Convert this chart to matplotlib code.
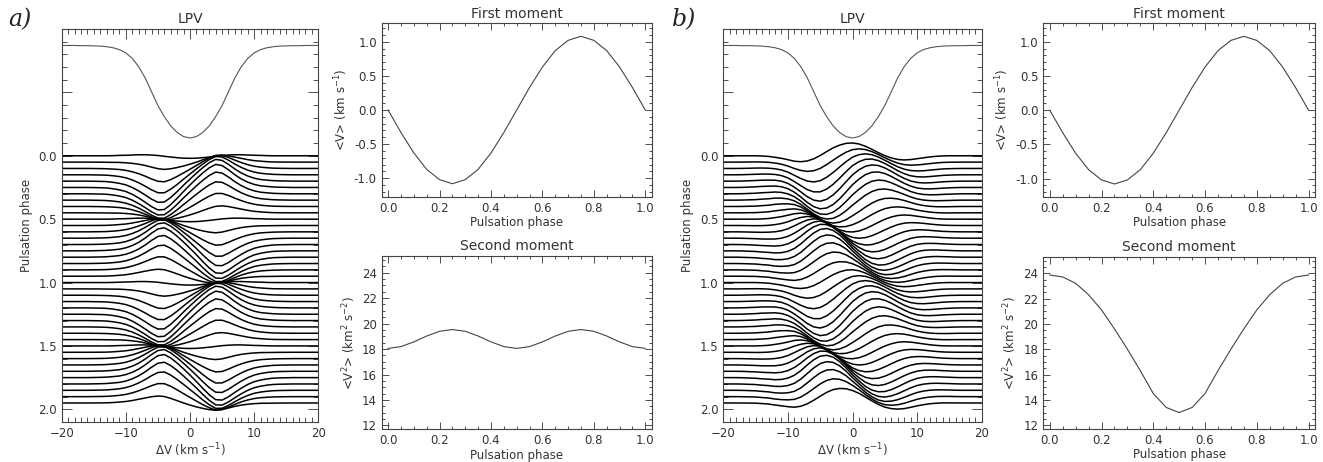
import numpy as np
import matplotlib
matplotlib.use('Agg')
from matplotlib import pyplot as plt
from matplotlib.ticker import MultipleLocator, FixedLocator, FuncFormatter

# velocity grid of the line profiles (km/s)
vel = np.arange(-20, 21)

# mean line profile (normalised flux), v = -20 .. 20
mean_flux = [1.000, 1.000, 1.000, 0.999, 0.999, 0.998, 0.997, 0.994, 0.989, 0.980,
             0.964, 0.937, 0.897, 0.843, 0.775, 0.708, 0.654, 0.609, 0.577, 0.557,
             0.550,
             0.557, 0.577, 0.609, 0.654, 0.708, 0.775, 0.843, 0.897, 0.937, 0.964,
             0.980, 0.989, 0.994, 0.997, 0.998, 0.999, 0.999, 1.000, 1.000, 1.000]

# residual shapes, model a): velocity-shift part and width part
shift_a = [0.0, 0.0, 0.0, 0.0, 0.0, -0.001, -0.002, -0.004, -0.009, -0.016,
           -0.028, -0.048, -0.075, -0.108, -0.145, -0.175, -0.178, -0.145, -0.100, -0.050,
           0.0,
           0.050, 0.100, 0.145, 0.178, 0.175, 0.145, 0.108, 0.075, 0.048, 0.028,
           0.016, 0.009, 0.004, 0.002, 0.001, 0.0, 0.0, 0.0, 0.0, 0.0]
width_a = [0.0, 0.0, 0.0, 0.0, 0.0, 0.0, 0.0, 0.0, -0.001, -0.003,
           -0.004, -0.006, -0.008, -0.008, -0.006, -0.002, 0.004, 0.010, 0.015, 0.019,
           0.020,
           0.019, 0.015, 0.010, 0.004, -0.002, -0.006, -0.008, -0.008, -0.006, -0.004,
           -0.003, -0.001, 0.0, 0.0, 0.0, 0.0, 0.0, 0.0, 0.0, 0.0]

# residual shapes, model b): cosine and sine components of the travelling pattern
cos_b = [0.0, 0.0, 0.0, 0.0, 0.000, 0.000, -0.002, -0.005, -0.012, -0.020,
         -0.031, -0.043, -0.047, -0.041, -0.024, 0.002, 0.033, 0.062, 0.084, 0.098,
         0.101,
         0.093, 0.075, 0.051, 0.025, 0.001, -0.017, -0.029, -0.033, -0.030, -0.023,
         -0.016, -0.009, -0.004, -0.001, 0.0, 0.0, 0.0, 0.0, 0.0, 0.0]
sin_b = [0.0, 0.0, 0.0, 0.001, 0.003, 0.005, 0.009, 0.011, 0.014, 0.010,
         -0.003, -0.028, -0.065, -0.109, -0.146, -0.169, -0.169, -0.148, -0.108, -0.056,
         0.0,
         0.046, 0.085, 0.109, 0.117, 0.110, 0.091, 0.066, 0.040, 0.017, 0.001,
         -0.007, -0.009, -0.008, -0.005, -0.003, -0.001, 0.0, 0.0, 0.0, 0.0]

# moments against pulsation phase
phase = np.round(np.arange(21) * 0.05, 2)
first_mom = [0.0, -0.33, -0.63, -0.87, -1.02, -1.08, -1.02, -0.87, -0.63, -0.33, 0.0,
             0.33, 0.63, 0.87, 1.02, 1.08, 1.02, 0.87, 0.63, 0.33, 0.0]
second_mom_a = [18.05, 18.19, 18.56, 19.02, 19.39, 19.53, 19.39, 19.02, 18.56, 18.19, 18.05,
                18.19, 18.56, 19.02, 19.39, 19.53, 19.39, 19.02, 18.56, 18.19, 18.05]
second_mom_b = [23.85, 23.70, 23.20, 22.30, 21.10, 19.60, 18.00, 16.30, 14.50, 13.40, 13.00,
                13.40, 14.50, 16.30, 18.00, 19.60, 21.10, 22.30, 23.20, 23.70, 23.85]

# LPV phases (two cycles)
lpv_phase = np.round(np.arange(40) * 0.05, 2)

W, H = 1323, 462
fig = plt.figure(figsize=(W / 100, H / 100), dpi=100)
TXT = '#333333'
plt.rcParams['font.family'] = 'DejaVu Sans'


def box(x0, y0, x1, y1):
    # pixel box -> figure fraction
    return [x0 / W, 1 - y1 / H, (x1 - x0) / W, (y1 - y0) / H]


def style(ax, big=False):
    ax.tick_params(which='both', direction='in', top=True, right=True,
                   colors=TXT, labelsize=8.5, width=0.6, labelcolor=TXT)
    ax.tick_params(which='major', length=7 if big else 5)
    ax.tick_params(which='minor', length=3.5 if big else 2.5)
    for s in ax.spines.values():
        s.set_linewidth(0.8)
        s.set_color('#444444')


def lpv(ax, shape1, shape2, amp1, amp2):
    prof = np.array(mean_flux)
    # mean profile drawn above the residuals
    ax.plot(vel, -0.87 + (1 - prof) / 0.45 * 0.73, color='#555555', lw=0.8)
    for i, ph in enumerate(lpv_phase):
        k = i % 20
        res = amp1[k] * np.array(shape1) + amp2[k] * np.array(shape2)
        ax.plot(vel, ph - res, color='black', lw=1.1)
    ax.set_xlim(-20, 20)
    ax.set_ylim(2.1, -1.0)
    ax.xaxis.set_major_locator(MultipleLocator(10))
    ax.xaxis.set_minor_locator(MultipleLocator(1))
    ax.yaxis.set_major_locator(FixedLocator([-1.0, -0.5, 0.0, 0.5, 1.0, 1.5, 2.0]))
    ax.yaxis.set_minor_locator(MultipleLocator(0.1))
    ax.yaxis.set_major_formatter(FuncFormatter(lambda y, p: '%.1f' % y if y >= 0 else ''))
    ax.set_title('LPV', fontsize=10, color=TXT, pad=4)
    ax.set_xlabel(r'$\Delta$V (km s$^{-1}$)', fontsize=8.5, color=TXT, labelpad=1)
    ax.set_ylabel('Pulsation phase', fontsize=8.5, color=TXT, labelpad=4)
    style(ax, big=True)


def first(ax):
    ax.plot(phase, first_mom, color='#444444', lw=0.8)
    ax.set_xlim(-0.025, 1.025)
    ax.set_ylim(-1.27, 1.27)
    ax.xaxis.set_major_locator(MultipleLocator(0.2))
    ax.xaxis.set_minor_locator(MultipleLocator(0.05))
    ax.yaxis.set_major_locator(MultipleLocator(0.5))
    ax.yaxis.set_minor_locator(MultipleLocator(0.1))
    ax.xaxis.set_major_formatter(FuncFormatter(lambda x, p: '%.1f' % x))
    ax.yaxis.set_major_formatter(FuncFormatter(lambda y, p: '%.1f' % y if abs(y) > 1e-9 else '0.0'))
    ax.set_title('First moment', fontsize=10, color=TXT, pad=4)
    ax.set_xlabel('Pulsation phase', fontsize=8.5, color=TXT, labelpad=1)
    ax.set_ylabel(r'<V> (km s$^{-1}$)', fontsize=8.5, color=TXT, labelpad=3)
    style(ax)


def second(ax, vals):
    ax.plot(phase, vals, color='#444444', lw=0.8)
    ax.set_xlim(-0.025, 1.025)
    ax.set_ylim(11.7, 25.3)
    ax.xaxis.set_major_locator(MultipleLocator(0.2))
    ax.xaxis.set_minor_locator(MultipleLocator(0.05))
    ax.yaxis.set_major_locator(MultipleLocator(2))
    ax.yaxis.set_minor_locator(MultipleLocator(0.5))
    ax.xaxis.set_major_formatter(FuncFormatter(lambda x, p: '%.1f' % x))
    ax.set_title('Second moment', fontsize=10, color=TXT, pad=4)
    ax.set_xlabel('Pulsation phase', fontsize=8.5, color=TXT, labelpad=1)
    ax.set_ylabel(r'<V$^2$> (km$^2$ s$^{-2}$)', fontsize=8.5, color=TXT, labelpad=3)
    style(ax)


# normalised pattern amplitudes taken from the moments
m1 = np.array(first_mom)
sin_amp = -m1 / 1.08
w_amp_a = (np.array(second_mom_a) - 18.79) / 0.74
cos_amp_b = (np.array(second_mom_b) - 18.43) / 5.42

# panel a)
ax = fig.add_axes(box(61.7, 29, 318.3, 422))
lpv(ax, shift_a, width_a, sin_amp, w_amp_a)
ax = fig.add_axes(box(381.7, 23.3, 651.7, 196.7))
first(ax)
ax = fig.add_axes(box(381.7, 256, 651.7, 429.3))
second(ax, second_mom_a)

# panel b)
ax = fig.add_axes(box(723.3, 29, 981.7, 422))
lpv(ax, sin_b, cos_b, sin_amp, cos_amp_b)
ax = fig.add_axes(box(1043.3, 23.3, 1315, 197))
first(ax)
ax = fig.add_axes(box(1043.3, 256.7, 1315, 429))
second(ax, second_mom_b)

fig.text(8 / W, 1 - 20 / H, 'a)', fontsize=17, family='DejaVu Serif', style='italic',
         color='#222222', va='center')
fig.text(672 / W, 1 - 20 / H, 'b)', fontsize=17, family='DejaVu Serif', style='italic',
         color='#222222', va='center')

fig.savefig('out.png', dpi=100)
